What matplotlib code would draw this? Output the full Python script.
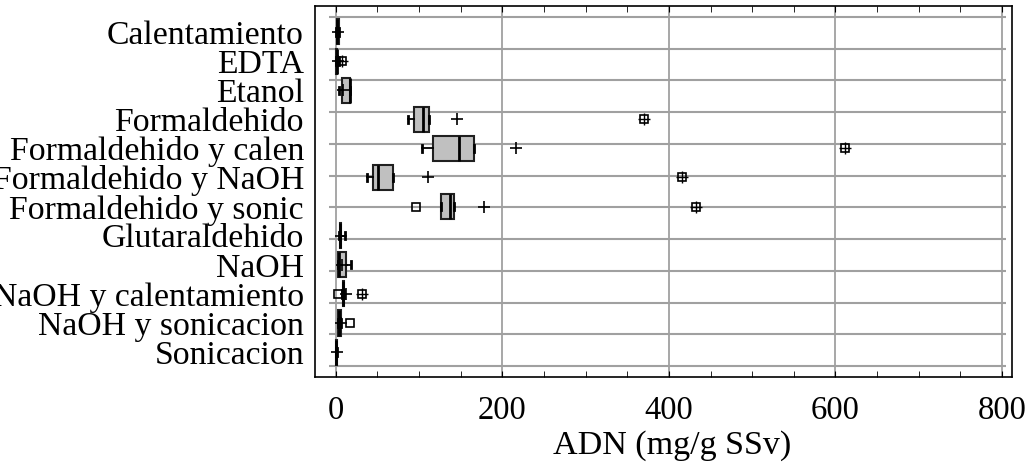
import numpy as np
import matplotlib.pyplot as plt
from matplotlib.ticker import MultipleLocator

plt.rcParams['font.family'] = ['Liberation Serif', 'DejaVu Serif']
plt.rcParams['font.size'] = 24

categories = ['Calentamiento', 'EDTA', 'Etanol', 'Formaldehido',
              'Formaldehido y calen', 'Formaldehido y NaOH', 'Formaldehido y sonic',
              'Glutaraldehido', 'NaOH', 'NaOH y calentamiento',
              'NaOH y sonicacion', 'Sonicacion']

# box summaries (mg/g SSv)
whislo = [0.5, 0.3, 4, 87, 104, 38, 126, 4, 2.5, 8, 3, 0.2]
q1 = [1, 0.5, 7, 94, 117, 45, 126, 4.5, 2.5, 8.5, 3, 0.4]
med = [2, 1, 17, 105, 148, 51, 137, 5.5, 3.5, 9, 4, 0.8]
q3 = [3.5, 1.5, 17.5, 112, 166, 69, 141.5, 6.5, 12.5, 10, 6.5, 1.3]
whishi = [4, 4, 17.5, 112, 166, 69, 141.5, 11, 18.5, 10, 6.5, 2]
means = [2.5, 3, 9, 145, 216, 111, 178, 6, 7.5, 12, 6, 1]
outliers = [[], [], [], [], [], [], [96], [], [], [3], [17], []]
far_outliers = [[], [7.5], [], [370], [612], [416], [432], [], [], [31.5], [], []]

xticks = [0, 200, 400, 600, 800]

stats = []
for i in range(len(categories)):
    stats.append(dict(whislo=whislo[i], q1=q1[i], med=med[i], q3=q3[i],
                      whishi=whishi[i], mean=means[i], fliers=outliers[i]))

fig = plt.figure(figsize=(10.28, 4.72), dpi=100)
ax = fig.add_axes([315/1028, 1-377/472, (1012-315)/1028, (377-6)/472])

pos = np.arange(len(categories))

# grid first so boxes sit on top
for x in xticks:
    ax.axvline(x, color='#a0a0a0', lw=1.3, zorder=0)
ax.hlines(np.linspace(-0.52, 11.48, 12), -8, 805, color='#a0a0a0', lw=1.5, zorder=0)

ax.bxp(stats, positions=pos, orientation='horizontal', widths=0.86,
       patch_artist=True, showmeans=True, manage_ticks=False, capwidths=0.25,
       boxprops=dict(facecolor='#c0c0c0', edgecolor='#202020', lw=1.5),
       medianprops=dict(color='black', lw=2),
       whiskerprops=dict(color='black', lw=1.3),
       capprops=dict(color='black', lw=2),
       meanprops=dict(marker='+', markeredgecolor='black', markersize=9, mew=1.2),
       flierprops=dict(marker='s', markerfacecolor='none', markeredgecolor='black',
                       markersize=6, mew=1.2))

for i, vals in enumerate(far_outliers):
    if vals:
        ax.plot(vals, [i]*len(vals), 's', mfc='none', mec='black', ms=6, mew=1.2)
        ax.plot(vals, [i]*len(vals), '+', mec='black', ms=8, mew=1.0)

ax.set_xlim(-25, 812)
ax.set_ylim(11.856, -0.893)
ax.set_xticks(xticks)
ax.xaxis.set_minor_locator(MultipleLocator(50))
ax.set_yticks(pos, categories)
ax.tick_params(axis='y', length=0, pad=8, labelsize=24.3)
ax.tick_params(axis='x', which='both', direction='in', top=True, length=4,
               pad=13, labelsize=23.5)
ax.set_xlabel('ADN (mg/g SSv)', fontsize=24.5)
ax.xaxis.set_label_coords(0.512, -0.143)
for s in ax.spines.values():
    s.set_linewidth(1.2)

plt.savefig('out.png', dpi=100)
